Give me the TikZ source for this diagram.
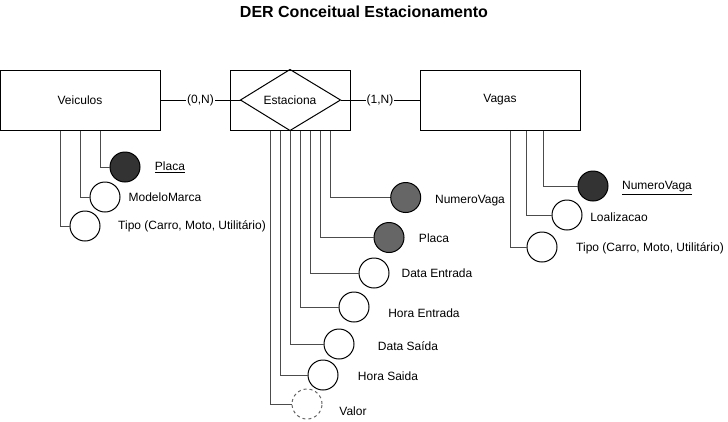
\documentclass[tikz,border=0pt]{standalone}
\usepackage{fontspec}
\setmainfont{Liberation Sans}
\usepackage{tikz}
\usepackage{xcolor}
\usetikzlibrary{positioning}
\definecolor{KeyDark}{HTML}{333333}
\definecolor{KeyMid}{HTML}{666666}

\tikzset{
  entity/.style={draw, line width=1pt, minimum width=160pt, minimum height=60pt, inner sep=0pt, font=\fontsize{12}{14}\selectfont},
  attr/.style={draw, circle, line width=1pt, minimum size=30pt, inner sep=0pt, fill=white},
  attrtxt/.style={inner sep=0pt, font=\fontsize{12}{14}\selectfont},
  link/.style={draw=black!70, line width=1pt},
  card/.style={fill=white, inner sep=1pt, font=\fontsize{12}{14}\selectfont}
}

\begin{document}
\begin{tikzpicture}[x=1pt, y=-1pt]
  \useasboundingbox (0,0) rectangle (728,421);
  \node[font=\fontsize{16}{18}\selectfont\bfseries] (titulo) at (364,12) {DER Conceitual Estacionamento};

  % Entidades e relacionamento
  \node[entity] (veic) at (80,100) {Veiculos};
  \node[entity, minimum width=120pt] (estac) at (290,100) {Estaciona};
  \node[entity] (vagas) at (500,100) {Vagas};
  \draw[line width=1pt] ([xshift=11pt]estac.west) -- (estac.north) -- ([xshift=-10pt]estac.east) -- (estac.south) -- cycle;
  \draw[line width=1pt] (veic.east) -- node[card] {(0,N)} ([xshift=11pt]estac.west);
  \draw[line width=1pt] ([xshift=-10pt]estac.east) -- node[card] {(1,N)} (vagas.west);

  % Atributos: Veiculos
  \node[attr, fill=KeyDark] (vPlaca) at (125,167) {};
  \node[attr] (vModelo) at (105,197) {};
  \node[attr] (vTipo) at (85,226) {};
  \node[attrtxt] (vPlacaTxt) at (170,167) {\underline{Placa}};
  \node[attrtxt] (vModeloTxt) at (165,197) {ModeloMarca};
  \node[attrtxt] (vTipoTxt) at (192,226) {Tipo (Carro, Moto, Utilitário)};
  \draw[link] ([xshift=20pt]veic.south) |- (vPlaca);
  \draw[link] (veic.south) |- (vModelo);
  \draw[link] ([xshift=-20pt]veic.south) |- (vTipo);

  % Atributos: Estaciona
  \node[attr, fill=KeyMid] (eNum) at (405.7,197.5) {};
  \node[attr, fill=KeyMid] (ePlaca) at (389,237.5) {};
  \node[attr] (eDataE) at (374,273) {};
  \node[attr] (eHoraE) at (354,307) {};
  \node[attr] (eDataS) at (339,344) {};
  \node[attr] (eHoraS) at (323,375) {};
  \node[attr, draw=black!60, dashed] (eValor) at (307,404) {};
  \node[attrtxt] (eNumTxt) at (470,201) {NumeroVaga};
  \node[attrtxt] (ePlacaTxt) at (434,238) {Placa};
  \node[attrtxt] (eDataETxt) at (437,273) {Data Entrada};
  \node[attrtxt] (eHoraETxt) at (424,313) {Hora Entrada};
  \node[attrtxt] (eDataSTxt) at (408,346) {Data Saída};
  \node[attrtxt] (eHoraSTxt) at (388,376) {Hora Saida};
  \node[attrtxt] (eValorTxt) at (353,411) {Valor};
  \foreach \a/\dx in {eNum/40, ePlaca/30, eDataE/20, eHoraE/10, eDataS/0, eHoraS/-10, eValor/-20}
    \draw[link] ([xshift=\dx pt]estac.south) |- (\a);

  % Atributos: Vagas
  \node[attr, fill=KeyDark] (gNum) at (593,186) {};
  \node[attr] (gLocal) at (567,215) {};
  \node[attr] (gTipo) at (542,247) {};
  \node[attrtxt] (gNumTxt) at (657,188) {\underline{NumeroVaga}};
  \node[attrtxt] (gLocalTxt) at (619,217) {Loalizacao};
  \node[attrtxt] (gTipoTxt) at (650,248) {Tipo (Carro, Moto, Utilitário)};
  \draw[link] ([xshift=43.3pt]vagas.south) |- (gNum);
  \draw[link] ([xshift=26.7pt]vagas.south) |- (gLocal);
  \draw[link] ([xshift=10pt]vagas.south) |- (gTipo);
\end{tikzpicture}
\end{document}
